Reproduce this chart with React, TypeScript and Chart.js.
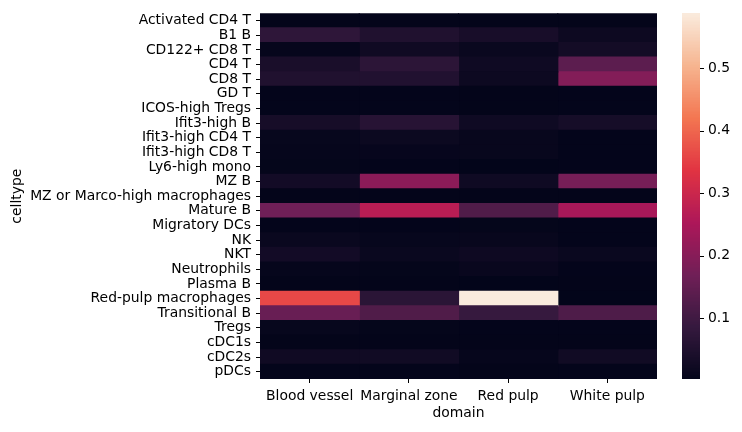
import React, { useEffect, useRef } from "react";
import { Chart, registerables } from "chart.js";

Chart.register(...registerables);

const domains = ["Blood vessel", "Marginal zone", "Red pulp", "White pulp"];

const celltypes = [
  "Activated CD4 T",
  "B1 B",
  "CD122+ CD8 T",
  "CD4 T",
  "CD8 T",
  "GD T",
  "ICOS-high Tregs",
  "Ifit3-high B",
  "Ifit3-high CD4 T",
  "Ifit3-high CD8 T",
  "Ly6-high mono",
  "MZ B",
  "MZ or Marco-high macrophages",
  "Mature B",
  "Migratory DCs",
  "NK",
  "NKT",
  "Neutrophils",
  "Plasma B",
  "Red-pulp macrophages",
  "Transitional B",
  "Tregs",
  "cDC1s",
  "cDC2s",
  "pDCs",
];

const bloodVessel = [
  0.004, 0.075, 0.008, 0.041, 0.052, 0.005, 0.005, 0.036, 0.010, 0.008, 0.006, 0.030, 0.004,
  0.169, 0.005, 0.015, 0.030, 0.008, 0.004, 0.363, 0.159, 0.010, 0.004, 0.025, 0.005,
];
const marginalZone = [
  0.004, 0.052, 0.025, 0.071, 0.053, 0.005, 0.005, 0.063, 0.018, 0.009, 0.005, 0.207, 0.004,
  0.273, 0.005, 0.010, 0.015, 0.006, 0.004, 0.068, 0.125, 0.006, 0.004, 0.026, 0.005,
];
const redPulp = [
  0.004, 0.038, 0.015, 0.023, 0.020, 0.004, 0.004, 0.023, 0.011, 0.011, 0.003, 0.023, 0.004,
  0.125, 0.006, 0.011, 0.021, 0.013, 0.003, 0.588, 0.088, 0.005, 0.004, 0.008, 0.004,
];
const whitePulp = [
  0.004, 0.020, 0.031, 0.142, 0.196, 0.005, 0.005, 0.035, 0.005, 0.005, 0.005, 0.178, 0.004,
  0.247, 0.005, 0.005, 0.015, 0.005, 0.004, 0.003, 0.122, 0.005, 0.004, 0.026, 0.005,
];

const columns = [bloodVessel, marginalZone, redPulp, whitePulp];

const colorbarTicks = [0.1, 0.2, 0.3, 0.4, 0.5];
const vmin = 0.003;
const vmax = 0.588;

// rocket colormap anchors
const rocketStops: [number, number, number, number][] = [
  [0.0, 3, 5, 26],
  [1 / 7, 53, 25, 62],
  [2 / 7, 112, 31, 87],
  [3 / 7, 173, 23, 89],
  [4 / 7, 225, 51, 66],
  [5 / 7, 243, 118, 81],
  [6 / 7, 246, 180, 143],
  [1.0, 250, 235, 221],
];

function rocket(t: number): string {
  const x = Math.max(0, Math.min(1, t));
  for (let i = 0; i < rocketStops.length - 1; i++) {
    const a = rocketStops[i];
    const b = rocketStops[i + 1];
    if (x <= b[0]) {
      const f = (x - a[0]) / (b[0] - a[0]);
      const r = Math.round(a[1] + (b[1] - a[1]) * f);
      const g = Math.round(a[2] + (b[2] - a[2]) * f);
      const bl = Math.round(a[3] + (b[3] - a[3]) * f);
      return `rgb(${r},${g},${bl})`;
    }
  }
  const l = rocketStops[rocketStops.length - 1];
  return `rgb(${l[1]},${l[2]},${l[3]})`;
}

const norm = (v: number) => (v - vmin) / (vmax - vmin);

const FONT = { family: "'DejaVu Sans', sans-serif", size: 13.9 };

const colorbarPlugin = {
  id: "colorbar",
  afterDraw(chart: any) {
    const ctx = chart.ctx;
    const { top, bottom } = chart.chartArea;
    const x0 = 682;
    const w = 18;
    const h = bottom - top;
    const n = 256;
    ctx.save();
    for (let i = 0; i < n; i++) {
      const y1 = bottom - (i / n) * h;
      const y0 = bottom - ((i + 1) / n) * h;
      ctx.fillStyle = rocket((i + 0.5) / n);
      ctx.fillRect(x0, Math.floor(y0), w, Math.ceil(y1) - Math.floor(y0));
    }
    ctx.strokeStyle = "#000";
    ctx.lineWidth = 1;
    ctx.fillStyle = "#000";
    ctx.font = `${FONT.size}px ${FONT.family}`;
    ctx.textAlign = "left";
    ctx.textBaseline = "middle";
    for (const t of colorbarTicks) {
      const y = bottom - norm(t) * h;
      ctx.beginPath();
      ctx.moveTo(x0 + w, Math.round(y) + 0.5);
      ctx.lineTo(x0 + w + 4, Math.round(y) + 0.5);
      ctx.stroke();
      ctx.fillText(t.toFixed(1), x0 + w + 8, y);
    }
    ctx.restore();
  },
};

export default function App() {
  const canvasRef = useRef<HTMLCanvasElement | null>(null);

  useEffect(() => {
    if (!canvasRef.current) return;
    const datasets = columns.map((vals, c) => ({
      label: domains[c],
      data: celltypes.map(() => [c, c + 1]),
      backgroundColor: vals.map((v) => rocket(norm(v))),
      grouped: false,
      barPercentage: 1,
      categoryPercentage: 1,
      borderWidth: 0,
      borderSkipped: false,
      inflateAmount: 0.6,
    }));
    const chart = new Chart(canvasRef.current, {
      type: "bar",
      data: { labels: celltypes, datasets: datasets as any },
      options: {
        indexAxis: "y",
        responsive: false,
        animation: false,
        layout: { padding: { left: 0, right: 85, top: 9, bottom: 0 } },
        plugins: { legend: { display: false }, tooltip: { enabled: false } },
        scales: {
          x: {
            type: "linear",
            min: 0,
            max: domains.length,
            afterBuildTicks: (s: any) => {
              s.ticks = domains.map((_, i) => ({ value: i + 0.5 }));
            },
            ticks: {
              callback: (_v: any, i: number) => domains[i],
              autoSkip: false,
              maxRotation: 0,
              font: FONT,
              color: "#000",
              padding: 5,
            },
            grid: { drawOnChartArea: false, drawTicks: true, tickLength: 4, color: "#000" },
            border: { display: false },
            title: { display: true, text: "domain", font: FONT, color: "#000", padding: { top: 0, bottom: 10 } },
            afterFit: (s: any) => {
              s.height = 53;
            },
          },
          y: {
            type: "category",
            offset: true,
            ticks: { autoSkip: false, font: FONT, color: "#000", padding: 5 },
            grid: { offset: false, drawOnChartArea: false, drawTicks: true, tickLength: 4, color: "#000" },
            border: { display: false },
            title: { display: true, text: "celltype", font: FONT, color: "#000", padding: { top: 9, bottom: 0 } },
            afterFit: (s: any) => {
              s.width = 260;
            },
          },
        },
      } as any,
      plugins: [colorbarPlugin],
    });
    return () => chart.destroy();
  }, []);

  return (
    <div style={{ position: "fixed", left: 0, top: 0, width: 742, height: 432, background: "#fff" }}>
      <canvas ref={canvasRef} width={742} height={432} />
    </div>
  );
}
